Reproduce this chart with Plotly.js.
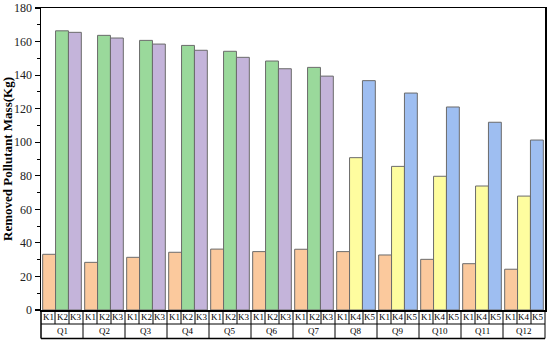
<!DOCTYPE html>
<html><head><meta charset="utf-8">
<script src="https://cdn.plot.ly/plotly-3.0.1.min.js"></script>
<style>html,body{margin:0;padding:0;background:#fff}#c{width:550px;height:343px}</style>
</head><body><div id="c"></div>
<script>
const groups = ["Q1","Q2","Q3","Q4","Q5","Q6","Q7","Q8","Q9","Q10","Q11","Q12"];
const k1 = [33.2, 28.4, 31.4, 34.4, 36.3, 34.8, 36.2, 34.8, 32.8, 30.2, 27.6, 24.3];
const k2 = [166.4, 163.7, 160.7, 157.7, 154.2, 148.4, 144.6];
const k3 = [165.5, 162.1, 158.5, 154.8, 150.6, 143.8, 139.4];
const k4 = [90.8, 85.6, 79.7, 73.9, 67.9];
const k5 = [136.7, 129.3, 121.0, 111.9, 101.3];
const subLabelsA = ["K1","K2","K3"];
const subLabelsB = ["K1","K4","K5"];

const cK1 = "#FBC99D", cK2 = "#9AD99B", cK3 = "#C4B4DA", cK4 = "#FEFD9F", cK5 = "#9EBEF1";
const nA = k2.length;
const mid = k2.concat(k4);
const right = k3.concat(k5);
const midColors = groups.map((g,i)=> i < nA ? cK2 : cK4);
const rightColors = groups.map((g,i)=> i < nA ? cK3 : cK5);
const lineStyle = {color:"#6b6b6b", width:1};

const traces = [
  {type:"bar", x:groups, y:k1, marker:{color:cK1, line:lineStyle}, name:"K1"},
  {type:"bar", x:groups, y:mid, marker:{color:midColors, line:lineStyle}, name:"K2/K4"},
  {type:"bar", x:groups, y:right, marker:{color:rightColors, line:lineStyle}, name:"K3/K5"}
];

const plotH = 343 - 8 - 33;
const row1 = -14/plotH, row2 = -28.5/plotH;
const shapes = [], annotations = [];
const n = groups.length;
const ln = {color:"#000", width:1};
shapes.push({type:"line", xref:"paper", yref:"paper", x0:0, x1:0, y0:0, y1:row2, line:{color:"#000",width:1.5}});
shapes.push({type:"line", xref:"paper", yref:"paper", x0:0, x1:1, y0:row1, y1:row1, line:ln});
shapes.push({type:"line", xref:"paper", yref:"paper", x0:0, x1:1, y0:row2, y1:row2, line:{color:"#000",width:1.5}});
shapes.push({type:"line", xref:"paper", yref:"paper", x0:1, x1:1, y0:0, y1:row2, line:ln});
groups.forEach((g,i)=>{
  const subs = i < nA ? subLabelsA : subLabelsB;
  for (let j=0;j<3;j++){
    const xa = (i + j/3)/n, xb = (i + (j+1)/3)/n;
    if (i>0 || j>0) shapes.push({type:"line", xref:"paper", yref:"paper", x0:xa, x1:xa, y0:0, y1:row1, line:ln});
    annotations.push({xref:"paper", yref:"paper", x:(xa+xb)/2, y:row1/2, text:subs[j], showarrow:false,
      font:{family:"Liberation Serif, serif", size:9, color:"#000"}, xanchor:"center", yanchor:"middle"});
  }
  if (i>0) shapes.push({type:"line", xref:"paper", yref:"paper", x0:i/n, x1:i/n, y0:row1, y1:row2, line:ln});
  annotations.push({xref:"paper", yref:"paper", x:(i+0.5)/n, y:(row1+row2)/2, text:g, showarrow:false,
    font:{family:"Liberation Serif, serif", size:9, color:"#000"}, xanchor:"center", yanchor:"middle"});
});

const layout = {
  width:550, height:343,
  margin:{l:41, r:5, t:8, b:33},
  paper_bgcolor:"#fff", plot_bgcolor:"#fff",
  barmode:"group", bargap:0.08, bargroupgap:0,
  showlegend:false,
  xaxis:{type:"category", range:[-0.5, 11.5], showticklabels:false, ticks:"", showline:true, mirror:true,
    linecolor:"#000", linewidth:1.5, showgrid:false, zeroline:false},
  yaxis:{range:[0,180], dtick:20, tick0:0, ticks:"outside", ticklen:5, tickwidth:1.2, tickcolor:"#000",
    showline:true, mirror:true, linecolor:"#000", linewidth:1.5, showgrid:false, zeroline:false,
    minor:{dtick:10, ticks:"outside", ticklen:3, tickcolor:"#000", tickwidth:1},
    tickfont:{family:"Liberation Serif, serif", size:12, color:"#222"},
    title:{text:"<b>Removed Pollutant Mass(Kg)</b>", font:{family:"Liberation Serif, serif", size:13, color:"#000"}, standoff:6}},
  shapes:shapes, annotations:annotations
};
Plotly.newPlot("c", traces, layout, {displayModeBar:false, staticPlot:true});
</script></body></html>
